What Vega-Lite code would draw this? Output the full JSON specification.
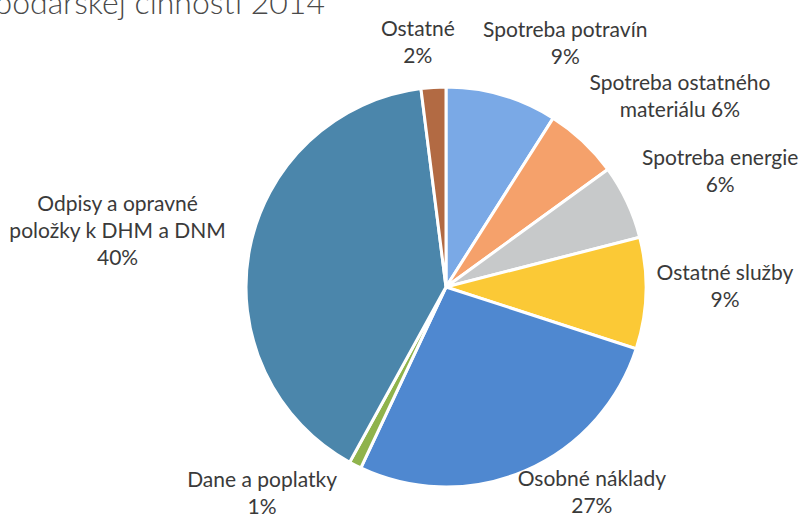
{
  "$schema": "https://vega.github.io/schema/vega-lite/v6.json",
  "width": 724,
  "height": 470,
  "autosize": "none",
  "padding": {"left": 84, "top": 52, "right": 0, "bottom": 0},
  "background": "white",
  "config": {"view": {"stroke": null}, "font": "Lato"},
  "title": {
    "text": "hospodárskej činnosti 2014",
    "anchor": "start",
    "frame": "group",
    "align": "right",
    "baseline": "alphabetic",
    "dx": 241,
    "dy": 33,
    "offset": 6,
    "fontSize": 32,
    "fontWeight": 300,
    "font": "Lato",
    "color": "#4a4a4a"
  },
  "data": {
    "values": [
      {"n": 1, "k": "Spotreba potravín", "v": 9, "t": "Spotreba potravín\n9%"},
      {"n": 2, "k": "Spotreba ostatného materiálu", "v": 6, "t": "Spotreba ostatného\nmateriálu 6%"},
      {"n": 3, "k": "Spotreba energie", "v": 6, "t": "Spotreba energie\n6%"},
      {"n": 4, "k": "Ostatné služby", "v": 9, "t": "Ostatné služby\n9%"},
      {"n": 5, "k": "Osobné náklady", "v": 27, "t": "Osobné náklady\n27%"},
      {"n": 6, "k": "Dane a poplatky", "v": 1, "t": "Dane a poplatky\n1%"},
      {"n": 7, "k": "Odpisy a opravné položky k DHM a DNM", "v": 40, "t": "Odpisy a opravné\npoložky k DHM a DNM\n40%"},
      {"n": 8, "k": "Ostatné", "v": 2, "t": "Ostatné\n2%"}
    ]
  },
  "encoding": {
    "theta": {"field": "v", "type": "quantitative", "stack": true},
    "order": {"field": "n", "type": "quantitative"}
  },
  "layer": [
    {
      "mark": {"type": "arc", "outerRadius": 200, "stroke": "white", "strokeWidth": 3},
      "encoding": {
        "color": {
          "field": "k",
          "type": "nominal",
          "legend": null,
          "scale": {
            "domain": ["Spotreba potravín", "Spotreba ostatného materiálu", "Spotreba energie", "Ostatné služby", "Osobné náklady", "Dane a poplatky", "Odpisy a opravné položky k DHM a DNM", "Ostatné"],
            "range": ["#7aa9e6", "#f5a16b", "#c7c9ca", "#fbc936", "#4f88d0", "#8fb34c", "#4b86ab", "#b26a43"]
          }
        }
      }
    },
    {
      "mark": {
        "type": "text",
        "lineBreak": "\n",
        "fontSize": 21,
        "lineHeight": 27,
        "align": "center",
        "baseline": "middle",
        "color": "#3a3a3a",
        "dy": {"expr": "datum.n == 7 ? -27 : -13.5"},
        "radius": {"expr": "datum.n == 1 ? 270 : datum.n == 2 ? 301 : datum.n == 3 ? 297 : datum.n == 4 ? 279 : datum.n == 5 ? 253 : datum.n == 6 ? 277 : datum.n == 7 ? 333 : 245"},
        "thetaOffset": {"expr": "(datum.n == 1 ? 10 : datum.n == 2 ? 7.8 : datum.n == 3 ? 2.6 : datum.n == 4 ? -1.6 : datum.n == 5 ? -11.8 : datum.n == 6 ? 14.6 : datum.n == 7 ? -1.3 : -3) * PI / 180"}
      },
      "encoding": {
        "text": {"field": "t", "type": "nominal"}
      }
    }
  ]
}
